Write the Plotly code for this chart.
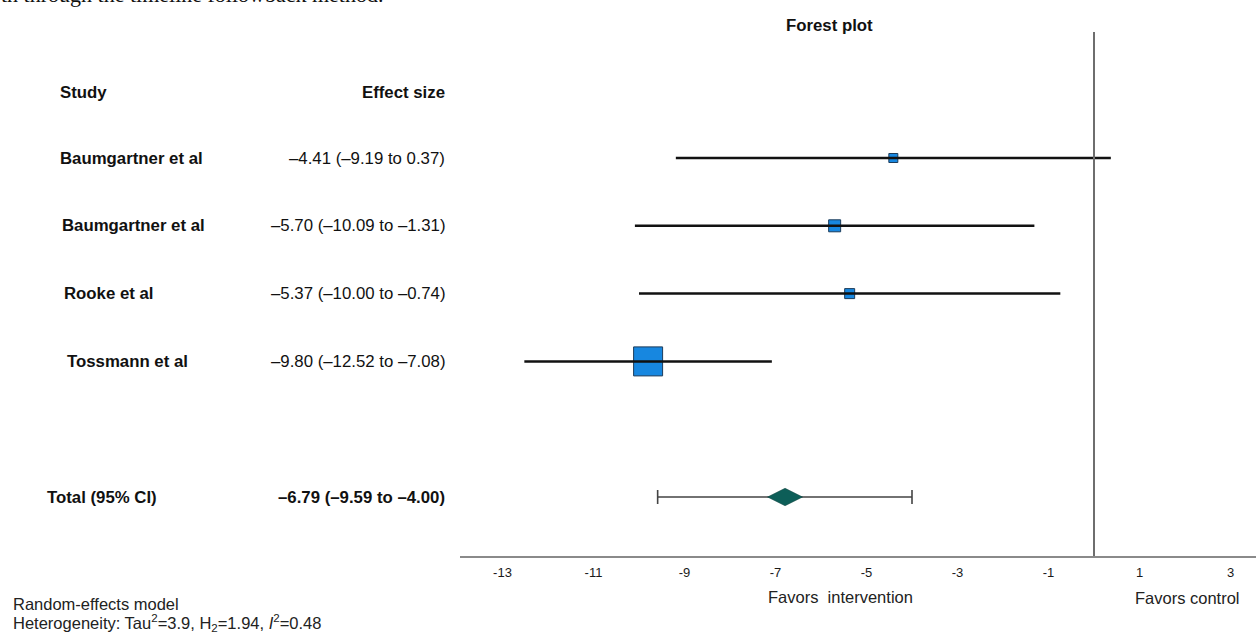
import plotly.graph_objects as go

# ---- data ----
studies = ["Baumgartner et al", "Baumgartner et al", "Rooke et al", "Tossmann et al"]
effect = [-4.41, -5.70, -5.37, -9.80]
ci_low = [-9.19, -10.09, -10.00, -12.52]
ci_high = [0.37, -1.31, -0.74, -7.08]
total_label = "Total (95% CI)"
total_effect = -6.79
total_low = -9.59
total_high = -4.00
x_ticks = [-13, -11, -9, -7, -5, -3, -1, 1, 3]

# ---- style ----
W, H = 1256, 634
L, R, T, B = 460, 0, 32, 78
marker_sizes = [9, 12, 10, 29]
FONT = "Liberation Sans, Arial, sans-serif"
NARROW = "Liberation Sans Narrow, Arial Narrow, Liberation Sans, Arial, sans-serif"
FS = 16.8

row_y = list(range(len(studies)))
total_y = len(studies) + 1


def fmt(v):
    return f"{v:.2f}".replace("-", "\u2013")


def px2paper(p):
    return (p - L) / (W - L - R)


def py2paper(p):
    return (H - B - p) / (H - T - B)


fig = go.Figure()

# squares
fig.add_trace(go.Scatter(
    x=effect, y=row_y, mode="markers",
    marker=dict(symbol="square", size=marker_sizes, color="#1787e0", opacity=1,
                line=dict(color="#1d3c5a", width=1)),
    hoverinfo="skip", showlegend=False))

# CI lines (on top of squares)
for i in range(len(studies)):
    fig.add_trace(go.Scatter(
        x=[ci_low[i], ci_high[i]], y=[row_y[i], row_y[i]], mode="lines",
        line=dict(color="#111111", width=2.5), hoverinfo="skip", showlegend=False))

# total CI with caps
fig.add_trace(go.Scatter(
    x=[total_effect], y=[total_y], mode="markers",
    marker=dict(size=0.1, color="rgba(0,0,0,0)"),
    error_x=dict(type="data", symmetric=False,
                 array=[total_high - total_effect],
                 arrayminus=[total_effect - total_low],
                 color="#444444", thickness=1.6, width=7),
    hoverinfo="skip", showlegend=False))
# diamond
fig.add_trace(go.Scatter(
    x=[total_effect], y=[total_y], mode="markers",
    marker=dict(symbol="diamond-wide", size=25, color="#0d5e58", opacity=1,
                line=dict(color="#0a3f3b", width=0.5)),
    hoverinfo="skip", showlegend=False))

# reference line at 0
fig.add_shape(type="line", xref="x", yref="paper", x0=0, x1=0, y0=0, y1=1,
              line=dict(color="#6e6e6e", width=2))

annotations = []
txt = dict(family=FONT, size=FS, color="#111")
# headers
annotations.append(dict(text="<b>Study</b>", x=px2paper(58), y=-0.97, xref="paper", yref="y",
                        xanchor="left", yanchor="middle", showarrow=False, font=txt))
annotations.append(dict(text="<b>Effect size</b>", x=px2paper(447), y=-0.97, xref="paper", yref="y",
                        xanchor="right", yanchor="middle", showarrow=False, font=txt))
label_x = [58, 60, 62, 65]
for i, s in enumerate(studies):
    annotations.append(dict(text=f"<b>{s}</b>", x=px2paper(label_x[i]), y=row_y[i],
                            xref="paper", yref="y", xanchor="left", yanchor="middle",
                            showarrow=False, font=txt))
    annotations.append(dict(text=f"{fmt(effect[i])} ({fmt(ci_low[i])} to {fmt(ci_high[i])})",
                            x=px2paper(447), y=row_y[i], xref="paper", yref="y",
                            xanchor="right", yanchor="middle", showarrow=False, font=txt))
annotations.append(dict(text=f"<b>{total_label}</b>", x=px2paper(45), y=total_y,
                        xref="paper", yref="y", xanchor="left", yanchor="middle",
                        showarrow=False, font=txt))
annotations.append(dict(text=f"<b>{fmt(total_effect)} ({fmt(total_low)} to {fmt(total_high)})</b>",
                        x=px2paper(447), y=total_y, xref="paper", yref="y",
                        xanchor="right", yanchor="middle", showarrow=False, font=txt))
# title
annotations.append(dict(text="<b>Forest plot</b>", x=px2paper(829), y=py2paper(25),
                        xref="paper", yref="paper", xanchor="center", yanchor="middle",
                        showarrow=False, font=txt))
# favors labels
annotations.append(dict(text="Favors  intervention", x=px2paper(840), y=py2paper(597),
                        xref="paper", yref="paper", xanchor="center", yanchor="middle",
                        showarrow=False, font=dict(family=NARROW, size=16.5, color="#222")))
annotations.append(dict(text="Favors control", x=px2paper(1187), y=py2paper(598),
                        xref="paper", yref="paper", xanchor="center", yanchor="middle",
                        showarrow=False, font=dict(family=NARROW, size=16.5, color="#222")))
# model notes
annotations.append(dict(text="Random-effects model", x=px2paper(11), y=py2paper(604),
                        xref="paper", yref="paper", xanchor="left", yanchor="middle",
                        showarrow=False, font=dict(family=FONT, size=16.5, color="#222")))
annotations.append(dict(text="Heterogeneity: Tau<sup>2</sup>=3.9, H<sub>2</sub>=1.94, <i>I</i><sup>2</sup>=0.48",
                        x=px2paper(11), y=py2paper(623),
                        xref="paper", yref="paper", xanchor="left", yanchor="middle",
                        showarrow=False, font=dict(family=FONT, size=16.5, color="#222")))
# clipped document text at the very top
annotations.append(dict(text="th through the timeline followback method.", x=px2paper(-1),
                        y=py2paper(-5),
                        xref="paper", yref="paper", xanchor="left", yanchor="middle",
                        showarrow=False, font=dict(family="Liberation Serif, Times New Roman, serif",
                                                   size=22, color="#111")))

x0_px = 1094.0
ppu = 45.5
xr = [(L - x0_px) / ppu, (W - R - x0_px) / ppu]
ppr = 67.8
yr = [(H - B - 158) / ppr, (T - 158) / ppr]

fig.update_layout(
    width=W, height=H,
    margin=dict(l=L, r=R, t=T, b=B, pad=0),
    paper_bgcolor="white", plot_bgcolor="white",
    xaxis=dict(range=xr, tickvals=x_ticks, ticktext=[str(t) for t in x_ticks],
               showgrid=False, zeroline=False, showline=True, linecolor="#8a8a8a",
               linewidth=1.5, ticks="", ticklabelstandoff=4,
               tickfont=dict(family=NARROW, size=13, color="#1a1a1a")),
    yaxis=dict(range=yr, showgrid=False, zeroline=False, showline=False,
               showticklabels=False, ticks=""),
    annotations=annotations,
    showlegend=False,
)

fig.write_html("out.html", config={"displayModeBar": False},
               post_script="document.body.style.margin='0px';document.body.style.padding='0px';")
